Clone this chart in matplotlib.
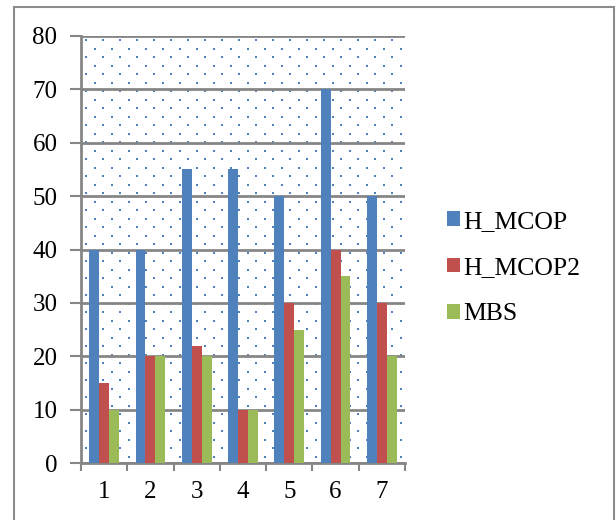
import matplotlib.pyplot as plt
import numpy as np
from matplotlib.patches import Rectangle

categories = ["1", "2", "3", "4", "5", "6", "7"]
h_mcop = [40, 40, 55, 55, 50, 70, 50]
h_mcop2 = [15, 20, 22, 10, 30, 40, 30]
mbs = [10, 20, 20, 10, 25, 35, 20]
series_names = ["H_MCOP", "H_MCOP2", "MBS"]
colors = ["#4f81bd", "#c0504d", "#9bbb59"]
y_ticks = [0, 10, 20, 30, 40, 50, 60, 70, 80]

plt.rcParams["font.family"] = ["Liberation Serif", "DejaVu Serif"]

W, H = 616, 520
fig = plt.figure(figsize=(W / 100, H / 100), dpi=100)
ax = fig.add_axes([81 / W, 1 - 463 / H, (405 - 81) / W, (463 - 36) / H])

# dotted background pattern (decoration)
dx, dy = 17 / (405 - 81), 8.5 / (463 - 36)
pts = []
row = 0
y = 1 - 4 / 427
while y > 0:
    off = 0.5 * dx if row % 2 else 0.0
    xs = np.arange(5 / 324 + off, 1, dx)
    for xv in xs:
        pts.append((xv, y))
    y -= dy
    row += 1
pts = np.array(pts)
ax.scatter(pts[:, 0], pts[:, 1], s=2.5, marker="s", color="#4f81bd",
           transform=ax.transAxes, zorder=0, linewidths=0)

x = np.arange(len(categories))
bw = 0.215
for i, (vals, name, c) in enumerate(zip([h_mcop, h_mcop2, mbs], series_names, colors)):
    ax.bar(x + (i - 1) * bw, vals, width=bw, color=c, label=name, zorder=3)

ax.set_xlim(-0.5, len(categories) - 0.5)
ax.set_ylim(0, 80)
ax.set_yticks(y_ticks)
ax.set_yticklabels([str(t) for t in y_ticks], fontsize=18)
ax.set_xticks(x)
ax.set_xticklabels(categories, fontsize=18)
ax.set_xticks(np.arange(-0.5, len(categories), 1), minor=True)
ax.tick_params(axis="x", which="major", length=0, pad=13)
ax.tick_params(axis="x", which="minor", length=6, width=1.5, color="#868686")
ax.tick_params(axis="y", length=8, width=1.5, color="#868686", pad=9)
ax.yaxis.grid(True, color="#868686", linewidth=2, zorder=1)
ax.set_axisbelow(True)
for s in ["top", "right"]:
    ax.spines[s].set_visible(False)
for s in ["left", "bottom"]:
    ax.spines[s].set_color("#868686")
    ax.spines[s].set_linewidth(2)

ax.legend(loc="center left", bbox_to_anchor=(434 / W, 1 - 268 / H),
          bbox_transform=fig.transFigure, frameon=False, fontsize=18.5,
          borderpad=0, handlelength=0.5, handleheight=0.5, handletextpad=0.15,
          labelspacing=0.95)

fig.patches.append(Rectangle((14 / W, -0.01), (614 - 14) / W, 1 - 7 / H + 0.01,
                             transform=fig.transFigure, fill=False,
                             edgecolor="#8c8c8c", linewidth=1.5))

fig.savefig("out.png", dpi=100)
